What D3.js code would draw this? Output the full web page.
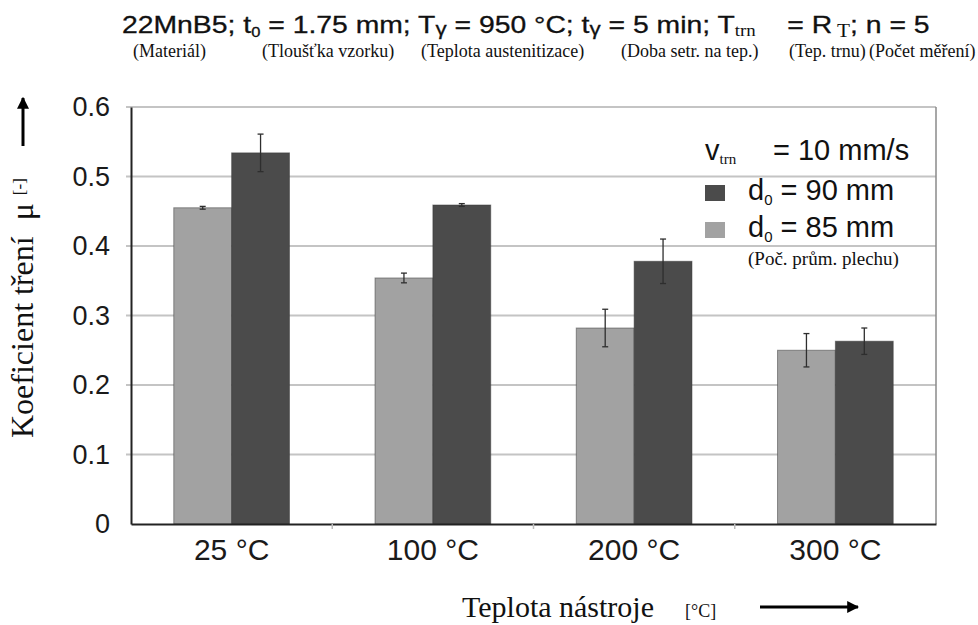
<!DOCTYPE html>
<html>
<head>
<meta charset="utf-8">
<script src="https://cdn.jsdelivr.net/npm/d3@7"></script>
<style>
  body { margin: 0; background: #fff; }
  text { white-space: pre; }
</style>
</head>
<body>
<div id="vis"></div>
<script>
// data
const categories = ['25 °C', '100 °C', '200 °C', '300 °C'];
const series = ['d85', 'd90'];
const mu85 = [0.455, 0.354, 0.282, 0.250];
const err85 = [0.002, 0.007, 0.027, 0.024];
const mu90 = [0.534, 0.459, 0.378, 0.263];
const err90 = [0.027, 0.002, 0.032, 0.019];
const yTicks = [0, 0.1, 0.2, 0.3, 0.4, 0.5, 0.6];

const width = 978, height = 625;
const sans = 'Liberation Sans, Arial, sans-serif';
const serif = 'Liberation Serif, Times New Roman, serif';
const light = '#a2a2a2', dark = '#4b4b4b';

let svg = d3.select('#vis')
  .append('svg')
  .attr('width', width)
  .attr('height', height)
  .style('background-color', 'white');

let x = d3.scaleBand()
  .domain(categories)
  .range([131, 936])
  .paddingInner(0.425)
  .paddingOuter(0.2125);

let xs = d3.scaleBand()
  .domain(series)
  .range([0, x.bandwidth()]);

let y = d3.scaleLinear()
  .domain([0, 0.6])
  .range([524, 107]);

// gridlines + little ticks left of the axis
svg.append('g')
  .selectAll('line')
  .data(yTicks.slice(1))
  .join('line')
  .attr('x1', 126)
  .attr('x2', 936)
  .attr('y1', d => y(d))
  .attr('y2', d => y(d))
  .attr('stroke', '#c4c4c4')
  .attr('stroke-width', 2);

// right border of the plot
svg.append('line')
  .attr('x1', 936).attr('x2', 936)
  .attr('y1', y(0.6)).attr('y2', y(0))
  .attr('stroke', '#8a8a8a')
  .attr('stroke-width', 1.5);

// bars
let rows = categories.map((c, i) => ({
  cat: c,
  vals: [
    { s: 'd85', v: mu85[i], e: err85[i], fill: light },
    { s: 'd90', v: mu90[i], e: err90[i], fill: dark }
  ]
}));

let groups = svg.append('g')
  .selectAll('g')
  .data(rows)
  .join('g')
  .attr('transform', d => `translate(${x(d.cat)},0)`);

groups.selectAll('rect')
  .data(d => d.vals)
  .join('rect')
  .attr('x', d => xs(d.s))
  .attr('width', xs.bandwidth())
  .attr('y', d => y(d.v))
  .attr('height', d => y(0) - y(d.v))
  .attr('fill', d => d.fill)
  .attr('stroke', '#3a3a3a')
  .attr('stroke-opacity', 0.5)
  .attr('stroke-width', 1);

// error bars
let eb = groups.selectAll('g.err')
  .data(d => d.vals)
  .join('g')
  .attr('class', 'err')
  .attr('stroke', '#2e2e2e')
  .attr('stroke-width', 1.3);

eb.append('line')
  .attr('x1', d => xs(d.s) + xs.bandwidth() / 2)
  .attr('x2', d => xs(d.s) + xs.bandwidth() / 2)
  .attr('y1', d => y(d.v + d.e))
  .attr('y2', d => y(d.v - d.e));
eb.append('line')
  .attr('x1', d => xs(d.s) + xs.bandwidth() / 2 - 3)
  .attr('x2', d => xs(d.s) + xs.bandwidth() / 2 + 3)
  .attr('y1', d => y(d.v + d.e))
  .attr('y2', d => y(d.v + d.e));
eb.append('line')
  .attr('x1', d => xs(d.s) + xs.bandwidth() / 2 - 3)
  .attr('x2', d => xs(d.s) + xs.bandwidth() / 2 + 3)
  .attr('y1', d => y(d.v - d.e))
  .attr('y2', d => y(d.v - d.e));

// y axis
let yAxis = svg.append('g')
  .attr('transform', 'translate(131,0)')
  .call(d3.axisLeft(y).tickValues(yTicks).tickFormat(d => d === 0 ? '0' : d3.format('.1f')(d)).tickSize(0).tickPadding(21));
yAxis.select('.domain').attr('stroke', '#222').attr('stroke-width', 2);
yAxis.selectAll('text')
  .attr('font-family', sans)
  .attr('font-size', 27)
  .attr('fill', '#1a1a1a');

// x axis
let xAxis = svg.append('g')
  .attr('transform', `translate(0,${y(0)})`)
  .call(d3.axisBottom(x).tickSize(0).tickPadding(14));
xAxis.select('.domain').attr('stroke', '#222').attr('stroke-width', 2.2);
xAxis.selectAll('text')
  .attr('font-family', sans)
  .attr('font-size', 30)
  .attr('fill', '#1a1a1a')
  .attr('dy', '0.72em');

// small tick marks between categories
svg.append('g')
  .selectAll('line')
  .data(categories.slice(1))
  .join('line')
  .attr('x1', d => x(d) - x.step() * x.paddingInner() / 2)
  .attr('x2', d => x(d) - x.step() * x.paddingInner() / 2)
  .attr('y1', y(0))
  .attr('y2', y(0) + 5)
  .attr('stroke', '#bbb')
  .attr('stroke-width', 1.5);

// title - the original is drawn a bit wide, so stretch it to fit 122..930
let titleG = svg.append('g');
let title = titleG.append('text')
  .attr('x', 0)
  .attr('y', 0)
  .attr('font-family', sans)
  .attr('font-size', 24)
  .attr('fill', '#111')
  .attr('stroke', '#111')
  .attr('stroke-width', 0.3);
title.append('tspan').text('22MnB5; t');
title.append('tspan').attr('font-size', 14).attr('dy', 4).text('0');
title.append('tspan').attr('dy', -4).text(' = 1.75 mm; T');
title.append('tspan').attr('font-size', 19).attr('dy', 2).text('γ');
title.append('tspan').attr('dy', -2).text(' = 950 °C; t');
title.append('tspan').attr('font-size', 19).attr('dy', 2).text('γ');
title.append('tspan').attr('dy', -2).text(' = 5 min; T');
title.append('tspan').attr('font-family', serif).attr('font-size', 16).attr('dy', 3).attr('stroke-width', 0).text('trn');
title.append('tspan').attr('dy', -3).text('    = R');
title.append('tspan').attr('font-family', serif).attr('font-size', 18).attr('dy', 4).attr('stroke-width', 0).text(' T');
title.append('tspan').attr('dy', -4).text('; n = 5');
let tw = title.node().getBBox().width;
titleG.attr('transform', `translate(122,33) scale(${808 / tw},1)`);

// explanatory captions under the title
const captions = ['(Materiál)', '(Tloušťka vzorku)', '(Teplota austenitizace)', '(Doba setr. na tep.)', '(Tep. trnu)', '(Počet měření)'];
const captionX = [133, 262, 421, 621, 789, 869];
svg.append('g')
  .selectAll('text')
  .data(captions)
  .join('text')
  .attr('x', (d, i) => captionX[i])
  .attr('y', 57)
  .attr('font-family', serif)
  .attr('font-size', 18)
  .attr('fill', '#111')
  .text(d => d);

// legend
let lg = svg.append('g');
let vt = lg.append('text')
  .attr('x', 705).attr('y', 160)
  .attr('font-family', sans).attr('font-size', 29).attr('fill', '#111');
vt.append('tspan').text('v');
vt.append('tspan').attr('font-family', serif).attr('font-size', 15).attr('dy', 4).text('trn');
lg.append('text')
  .attr('x', 773).attr('y', 160)
  .attr('font-family', sans).attr('font-size', 29).attr('fill', '#111')
  .text('= 10 mm/s');

const legendItems = [
  { fill: dark, label: '90 mm', y: 200 },
  { fill: light, label: '85 mm', y: 237 }
];
legendItems.forEach(it => {
  lg.append('rect')
    .attr('x', 705).attr('y', it.y - 15)
    .attr('width', 20).attr('height', 16)
    .attr('fill', it.fill);
  let t = lg.append('text')
    .attr('x', 748).attr('y', it.y)
    .attr('font-family', sans).attr('font-size', 29).attr('fill', '#111');
  t.append('tspan').text('d');
  t.append('tspan').attr('font-size', 15).attr('dy', 5).text('0');
  t.append('tspan').attr('dy', -5).text(' = ' + it.label);
});
lg.append('text')
  .attr('x', 748).attr('y', 265)
  .attr('font-family', serif).attr('font-size', 19).attr('fill', '#111')
  .text('(Poč. prům. plechu)');

// axis titles with arrows
svg.append('defs').append('marker')
  .attr('id', 'arr')
  .attr('viewBox', '0 0 10 10')
  .attr('refX', 9).attr('refY', 5)
  .attr('markerWidth', 4).attr('markerHeight', 4)
  .attr('markerUnits', 'strokeWidth')
  .attr('orient', 'auto')
  .append('path')
  .attr('d', 'M0,0 L10,5 L0,10 z')
  .attr('fill', '#000');

let yl = svg.append('text')
  .attr('transform', 'translate(33,438) rotate(-90)')
  .attr('font-family', serif)
  .attr('font-size', 32)
  .attr('fill', '#111');
yl.append('tspan').text('Koeficient tření  μ ');
yl.append('tspan').attr('font-size', 17).attr('dy', -8).text('[-]');

svg.append('line')
  .attr('x1', 23).attr('x2', 23)
  .attr('y1', 146).attr('y2', 98)
  .attr('stroke', '#000').attr('stroke-width', 3)
  .attr('marker-end', 'url(#arr)');

svg.append('text')
  .attr('x', 462).attr('y', 617)
  .attr('font-family', serif)
  .attr('font-size', 30)
  .attr('fill', '#111')
  .text('Teplota nástroje');
svg.append('text')
  .attr('x', 685).attr('y', 617)
  .attr('font-family', serif)
  .attr('font-size', 18)
  .attr('fill', '#111')
  .text('[°C]');

svg.append('line')
  .attr('x1', 760).attr('x2', 858)
  .attr('y1', 607).attr('y2', 607)
  .attr('stroke', '#000').attr('stroke-width', 3)
  .attr('marker-end', 'url(#arr)');
</script>
</body>
</html>
